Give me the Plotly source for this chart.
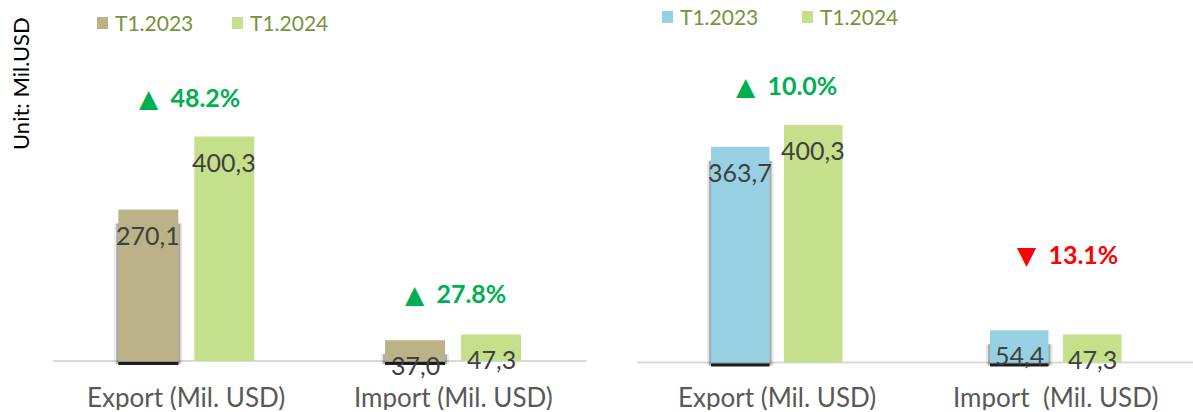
import plotly.graph_objects as go

# ---------------- data ----------------
categories = ["Export (Mil. USD)", "Import (Mil. USD)"]
categories_right = ["Export (Mil. USD)", "Import\u00a0\u00a0(Mil. USD)"]
series_names = ["T1.2023", "T1.2024"]
left_2023 = [270.1, 37.0]
left_2024 = [400.3, 47.3]
right_2023 = [363.7, 54.4]
right_2024 = [400.3, 47.3]
left_change_pct = [48.2, 27.8]
right_change_pct = [10.0, -13.1]
unit_label = "Unit: Mil.USD"

# ---------------- styling ----------------
W, H = 1193, 412
FONT = "Lato"
C_TAN = "#BBB387"
C_GREEN = "#C4E08A"
C_BLUE = "#96D0E2"
C_UP = "#00B050"
C_DOWN = "#FF0000"
C_LEG = "#77933C"
C_LBL = "#404040"
C_CAT = "#595959"


def px(x):
    return x / W


def py(y):
    return 1 - y / H


fig = go.Figure()

# panel geometry (pixels)
panels = [
    dict(xa="x", ya="y", x0=53.0, spacing=266.7, base_px=361.0, top_px=136.5,
         bw=60.0, off1=-68.0, off2=8.0, c1=C_TAN, s1=left_2023, s2=left_2024,
         cats=categories, pct=left_change_pct, pct_pos=[(189, 97), (455, 293)],
         xaxis="xaxis", yaxis="yaxis"),
    dict(xa="x2", ya="y2", x0=637.0, spacing=279.0, base_px=362.5, top_px=125.0,
         bw=58.5, off1=-65.5, off2=7.5, c1=C_BLUE, s1=right_2023, s2=right_2024,
         cats=categories_right, pct=right_change_pct, pct_pos=[(786, 85), (1067, 255)],
         xaxis="xaxis2", yaxis="yaxis2"),
]

annotations = []
shapes = []

for p in panels:
    k = (p["base_px"] - p["top_px"]) / max(p["s2"])  # px per unit
    sp = p["spacing"]
    idx = list(range(len(p["cats"])))
    w = p["bw"] / sp
    o1 = p["off1"] / sp
    o2 = p["off2"] / sp

    # soft shadow behind first series
    sh_base = -3.0 / k
    for grow, alpha in ((4.0, 0.10), (2.0, 0.30)):
        fig.add_trace(go.Bar(
            x=idx, y=[v - 14.0 / k - sh_base for v in p["s1"]], base=[sh_base] * len(idx),
            width=w + 2 * grow / sp, offset=o1 - grow / sp,
            marker=dict(color=f"rgba(30,30,30,{alpha})", line=dict(width=0)),
            showlegend=False, hoverinfo="skip", xaxis=p["xa"], yaxis=p["ya"]))
    # dark line under the first-series bars
    fig.add_trace(go.Bar(
        x=idx, y=[3.0 / k] * len(idx), base=[-4.0 / k] * len(idx),
        width=w, offset=o1,
        marker=dict(color="rgba(0,0,0,0.85)", line=dict(width=0)),
        showlegend=False, hoverinfo="skip", xaxis=p["xa"], yaxis=p["ya"]))

    fig.add_trace(go.Bar(
        x=idx, y=p["s1"], width=w, offset=o1, name=series_names[0],
        marker=dict(color=p["c1"], line=dict(width=0)),
        showlegend=False, xaxis=p["xa"], yaxis=p["ya"]))
    fig.add_trace(go.Bar(
        x=idx, y=p["s2"], width=w, offset=o2, name=series_names[1],
        marker=dict(color=C_GREEN, line=dict(width=0)),
        showlegend=False, xaxis=p["xa"], yaxis=p["ya"]))

    # value labels
    for i in idx:
        for v, o in ((p["s1"][i], o1), (p["s2"][i], o2)):
            annotations.append(dict(
                x=i + o + w / 2, y=v, xref=p["xa"], yref=p["ya"],
                xanchor="center", yanchor="middle",
                text=f"{v:.1f}".replace(".", ","), showarrow=False,
                yshift=-25, font=dict(family=FONT, size=25, color=C_LBL)))

    # category labels
    for i, c in zip(idx, p["cats"]):
        annotations.append(dict(
            x=i, y=py(397), xref=p["xa"], yref="paper", text=c, showarrow=False,
            xanchor="center", yanchor="middle", height=26, valign="middle",
            font=dict(family=FONT, size=26, color=C_CAT)))

    # change percentages
    for pct, (cx, cy) in zip(p["pct"], p["pct_pos"]):
        up = pct >= 0
        col = C_UP if up else C_DOWN
        tri = "▲" if up else "▼"
        annotations.append(dict(
            x=px(cx), y=py(cy), xref="paper", yref="paper", showarrow=False,
            xanchor="center", yanchor="middle",
            text=f"<span style='font-family:DejaVu Sans;font-size:25px'>{tri}</span>\u00a0 {abs(pct):.1f}%",
            font=dict(family=FONT, size=25, color=col, weight="bold")))

    # baseline
    shapes.append(dict(type="line", xref=p["xa"] + " domain", yref=p["ya"],
                       x0=0, x1=1, y0=0, y1=0, layer="below",
                       line=dict(color="#D9D9D9", width=2)))

    x1_px = min(p["x0"] + 2 * sp, W)
    fig.layout[p["xaxis"]] = dict(
        domain=[px(p["x0"]), px(x1_px)],
        range=[-0.5, -0.5 + (x1_px - p["x0"]) / sp],
        anchor=p["ya"], visible=False, fixedrange=True)
    fig.layout[p["yaxis"]] = dict(
        domain=[0, 1], range=[-(H - p["base_px"]) / k, p["base_px"] / k],
        anchor=p["xa"], visible=False, fixedrange=True)

# legends (manual)
legend_items = [
    (97, 23, C_TAN, series_names[0]), (232, 23, C_GREEN, series_names[1]),
    (662, 17, C_BLUE, series_names[0]), (802, 17, C_GREEN, series_names[1]),
]
for lx, ly, col, name in legend_items:
    shapes.append(dict(type="rect", xref="paper", yref="paper",
                       x0=px(lx), x1=px(lx + 11), y0=py(ly + 6), y1=py(ly - 6),
                       fillcolor=col, line=dict(width=0)))
    annotations.append(dict(x=px(lx + 16), y=py(ly), xref="paper", yref="paper",
                            xanchor="left", yanchor="middle", showarrow=False, text=name,
                            font=dict(family=FONT, size=21, color=C_LEG)))

# unit label
annotations.append(dict(x=px(20), y=py(84), xref="paper", yref="paper", showarrow=False,
                        xanchor="center", yanchor="middle",
                        text=unit_label, textangle=-90,
                        font=dict(family=FONT, size=22, color="#000000")))

fig.update_layout(
    width=W, height=H, margin=dict(l=0, r=0, t=0, b=0),
    paper_bgcolor="white", plot_bgcolor="rgba(0,0,0,0)",
    barmode="overlay", annotations=annotations, shapes=shapes,
    showlegend=False,
)

fig.write_html("out.html", config={"displayModeBar": False},
               post_script="document.body.style.margin='0';document.body.style.overflow='hidden';")
